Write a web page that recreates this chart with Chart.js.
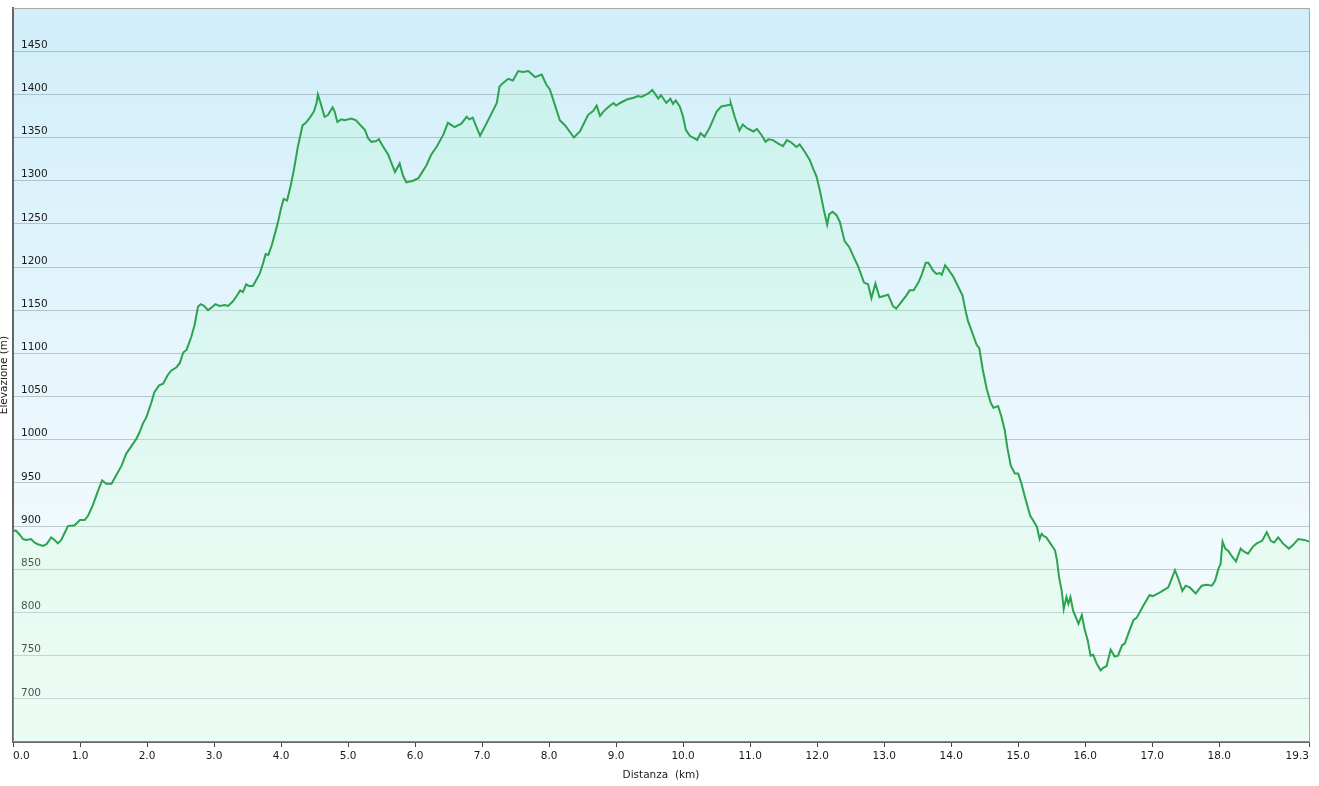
<!DOCTYPE html>
<html>
<head>
<meta charset="utf-8">
<title>Profilo altimetrico</title>
<script src="https://cdn.jsdelivr.net/npm/chart.js@4.4.1/dist/chart.umd.min.js"></script>
<style>
  html, body { margin: 0; padding: 0; background: #fff; }
  canvas { display: block; }
</style>
</head>
<body>
<canvas id="profile" width="1319" height="786"></canvas>
<script>
// distance along the track (km) and elevation (m)
const distanceKm = [
  0.00, 0.04, 0.10, 0.15, 0.20, 0.27, 0.32, 0.37, 0.45, 0.50, 0.57, 0.62, 0.67, 0.72, 0.77, 0.82, 0.92,
  1.00, 1.07, 1.12, 1.19, 1.27, 1.33, 1.39, 1.47, 1.54, 1.62, 1.69, 1.77, 1.84, 1.89, 1.94, 1.99,
  2.06, 2.11, 2.18, 2.24, 2.31, 2.36, 2.44, 2.49, 2.54, 2.59, 2.66, 2.71, 2.76, 2.80, 2.85, 2.91, 2.96,
  3.02, 3.08, 3.16, 3.21, 3.28, 3.36, 3.39, 3.43, 3.48, 3.52, 3.58, 3.63, 3.68, 3.73, 3.77, 3.81, 3.86, 3.91, 3.96,
  4.00, 4.04, 4.09, 4.14, 4.19, 4.25, 4.32, 4.37, 4.43, 4.49, 4.53, 4.55, 4.59, 4.65, 4.70, 4.77, 4.80, 4.84, 4.90, 4.95,
  5.05, 5.12, 5.20, 5.25, 5.30, 5.35, 5.42, 5.46, 5.52, 5.60, 5.65, 5.70, 5.77, 5.82, 5.87, 5.97,
  6.05, 6.17, 6.24, 6.32, 6.42, 6.49, 6.59, 6.69, 6.77, 6.81, 6.86, 6.97,
  7.07, 7.22, 7.26, 7.31, 7.39, 7.46, 7.54, 7.61, 7.69, 7.79, 7.89, 7.96,
  8.01, 8.09, 8.16, 8.24, 8.37, 8.46, 8.53, 8.58, 8.66, 8.71, 8.76, 8.81, 8.88, 8.96,
  9.00, 9.06, 9.16, 9.26, 9.33, 9.38, 9.48, 9.54, 9.63, 9.67, 9.75, 9.81, 9.85, 9.89, 9.95,
  10.00, 10.04, 10.10, 10.17, 10.21, 10.26, 10.32, 10.40, 10.50, 10.57, 10.70, 10.71, 10.77, 10.84, 10.89, 10.95,
  11.00, 11.05, 11.10, 11.17, 11.23, 11.27, 11.34, 11.42, 11.49, 11.55, 11.62, 11.69, 11.74, 11.82, 11.89, 11.94, 11.99,
  12.04, 12.10, 12.15, 12.18, 12.23, 12.29, 12.34, 12.41, 12.48, 12.55, 12.61, 12.70, 12.76, 12.81, 12.87, 12.93,
  13.06, 13.13, 13.18, 13.26, 13.33, 13.38, 13.44, 13.51, 13.56, 13.62, 13.66, 13.73, 13.78, 13.83, 13.86, 13.91, 13.96,
  14.03, 14.10, 14.17, 14.21, 14.25, 14.32, 14.38, 14.42, 14.47, 14.53, 14.59, 14.63, 14.70, 14.75, 14.80, 14.84, 14.89, 14.95,
  15.00, 15.05, 15.10, 15.18, 15.22, 15.28, 15.32, 15.35, 15.39, 15.42, 15.48, 15.55, 15.58, 15.61, 15.65, 15.68, 15.72,
  15.75, 15.78, 15.82, 15.90, 15.95, 15.99,
  16.04, 16.08, 16.12, 16.17, 16.23, 16.27, 16.32, 16.38, 16.44, 16.49, 16.55, 16.59, 16.67, 16.72, 16.77, 16.86, 16.96,
  17.01, 17.11, 17.24, 17.29, 17.34, 17.39, 17.45, 17.50, 17.56, 17.65, 17.74, 17.81, 17.89, 17.94, 17.99,
  18.02, 18.05, 18.09, 18.14, 18.18, 18.25, 18.32, 18.36, 18.43, 18.50, 18.56, 18.64, 18.71, 18.77, 18.82, 18.88, 18.95,
  19.04, 19.10, 19.18, 19.27, 19.34
];
const elevationM = [
  894, 895, 890, 885, 884, 885, 881, 879, 877, 879, 887, 884, 880, 884, 892, 900, 901,
  907, 907, 912, 924, 941, 953, 949, 949, 959, 970, 984, 993, 1001, 1009, 1019, 1026,
  1042, 1055, 1063, 1065, 1075, 1080, 1084, 1089, 1101, 1104, 1119, 1133, 1154, 1157, 1155, 1150, 1153,
  1157, 1155, 1156, 1155, 1160, 1169, 1173, 1171, 1180, 1178, 1178, 1185, 1192, 1204, 1215, 1214, 1225, 1239, 1254,
  1268, 1279, 1277, 1293, 1312, 1339, 1364, 1367, 1373, 1380, 1390, 1400, 1390, 1374, 1376, 1385, 1380, 1368, 1371, 1370,
  1372, 1370, 1363, 1359, 1349, 1345, 1346, 1348, 1340, 1330, 1320, 1310, 1320, 1306, 1298, 1300,
  1303, 1318, 1330, 1339, 1353, 1367, 1362, 1366, 1374, 1371, 1373, 1352,
  1367, 1390, 1409, 1413, 1418, 1416, 1427, 1426, 1427, 1420, 1423, 1411,
  1406, 1387, 1370, 1364, 1350, 1357, 1368, 1376, 1381, 1387, 1375, 1380, 1385, 1390,
  1387, 1390, 1394, 1396, 1398, 1397, 1401, 1405, 1395, 1399, 1390, 1395, 1389, 1393, 1386,
  1374, 1359, 1352, 1349, 1347, 1355, 1351, 1362, 1380, 1386, 1388, 1390, 1374, 1358, 1365, 1361,
  1359, 1357, 1360, 1353, 1345, 1348, 1347, 1343, 1340, 1347, 1344, 1339, 1342, 1333, 1324, 1314, 1305,
  1289, 1266, 1249, 1261, 1264, 1260, 1252, 1230, 1223, 1211, 1201, 1182, 1180, 1164, 1181, 1165,
  1168, 1155, 1152, 1160, 1167, 1173, 1173, 1182, 1191, 1205, 1205, 1196, 1192, 1193, 1191, 1202, 1197,
  1189, 1178, 1167, 1151, 1138, 1123, 1110, 1106, 1082, 1059, 1043, 1037, 1039, 1027, 1011, 990, 970, 961,
  961, 949, 934, 912, 907, 899, 885, 891, 888, 887, 880, 872, 860, 841, 825, 804, 818,
  810, 818, 802, 787, 797, 781,
  767, 750, 751, 741, 733, 736, 738, 757, 749, 750, 762, 764, 781, 791, 794, 807, 820,
  819, 823, 829, 839, 849, 839, 825, 831, 829, 822, 831, 832, 831, 837, 851,
  856, 882, 874, 871, 866, 859, 874, 871, 868, 876, 880, 883, 893, 883, 881, 887, 880,
  874, 878, 885, 884, 882
];

// axis ticks
const xTickValues = [0, 1, 2, 3, 4, 5, 6, 7, 8, 9, 10, 11, 12, 13, 14, 15, 16, 17, 18, 19.34];
const yLabelled = [700, 750, 800, 850, 900, 950, 1000, 1050, 1100, 1150, 1200, 1250, 1300, 1350, 1400, 1450];

const FONT = { family: "'DejaVu Sans', Verdana, sans-serif", size: 10.5 };

// sky-like backdrop inside the plot, white outside, thin frame on top/right
const backdrop = {
  id: "backdrop",
  beforeDraw(chart) {
    const { ctx, chartArea: a } = chart;
    ctx.save();
    ctx.fillStyle = "#fff";
    ctx.fillRect(0, 0, chart.width, chart.height);
    const g = ctx.createLinearGradient(0, a.top, 0, a.bottom);
    g.addColorStop(0, "#d1eefa");
    g.addColorStop(0.7, "#f0f9fd");
    g.addColorStop(1, "#f3fbfc");
    ctx.fillStyle = g;
    ctx.fillRect(a.left, a.top, a.right - a.left, a.bottom - a.top);
    ctx.restore();
  },
  afterDraw(chart) {
    const { ctx, chartArea: a } = chart;
    ctx.save();
    ctx.strokeStyle = "#a9a9a9";
    ctx.lineWidth = 1;
    ctx.beginPath();
    ctx.moveTo(a.left, a.top + 0.5);
    ctx.lineTo(a.right + 0.5, a.top + 0.5);
    ctx.lineTo(a.right + 0.5, a.bottom);
    ctx.stroke();
    ctx.restore();
  }
};

function areaFill(context) {
  const { chart } = context;
  const a = chart.chartArea;
  if (!a) return "rgba(190,245,214,0.3)";
  const g = chart.ctx.createLinearGradient(0, a.top, 0, a.bottom);
  g.addColorStop(0, "rgba(180,245,210,0.34)");
  g.addColorStop(1, "rgba(210,255,214,0.24)");
  return g;
}

const points = distanceKm.map((d, i) => ({ x: d, y: elevationM[i] }));

new Chart(document.getElementById("profile"), {
  type: "line",
  data: {
    datasets: [{
      data: points,
      borderColor: "#2ba34f",
      borderWidth: 2,
      pointRadius: 0,
      tension: 0,
      fill: "start",
      backgroundColor: areaFill
    }]
  },
  options: {
    responsive: false,
    animation: false,
    devicePixelRatio: 1,
    layout: { padding: { top: 8, right: 10, left: 0, bottom: 0 } },
    plugins: { legend: { display: false }, tooltip: { enabled: false } },
    scales: {
      x: {
        type: "linear",
        min: 0,
        max: 19.34,
        afterBuildTicks: (s) => { s.ticks = xTickValues.map((v) => ({ value: v })); },
        afterFit: (s) => { s.height = 44; s.paddingLeft = 0; s.paddingRight = 0; },
        grid: { drawOnChartArea: false, drawTicks: true, tickLength: 5, tickColor: "#444" },
        border: { display: true, color: "#666", width: 2 },
        ticks: {
          align: "inner",
          padding: 3,
          maxRotation: 0,
          autoSkip: false,
          color: "#1a1a1a",
          font: FONT,
          callback: (v) => Number(v).toFixed(1)
        },
        title: {
          display: true,
          text: "Distanza  (km)",
          color: "#1a1a1a",
          font: FONT,
          padding: { top: 4, bottom: 4.5 }
        }
      },
      y: {
        min: 650,
        max: 1500,
        afterBuildTicks: (s) => {
          s.ticks = [650].concat(yLabelled, [1500]).map((v) => ({ value: v }));
        },
        afterFit: (s) => { s.width = 13; s.paddingTop = 0; s.paddingBottom = 0; },
        grid: {
          color: (c) => (c.tick && (c.tick.value === 650 || c.tick.value === 1500)) ? "rgba(0,0,0,0)" : "rgba(120,140,150,0.45)",
          lineWidth: 1,
          drawTicks: false
        },
        border: { display: true, color: "#666", width: 2 },
        ticks: {
          mirror: true,
          padding: 8,
          labelOffset: -6,
          autoSkip: false,
          color: "#1a1a1a",
          font: FONT,
          callback: (v) => yLabelled.includes(v) ? String(v) : ""
        },
        title: {
          display: true,
          text: "Elevazione (m)",
          color: "#1a1a1a",
          font: FONT,
          padding: { top: -2, bottom: 0 }
        }
      }
    }
  },
  plugins: [backdrop]
});
</script>
</body>
</html>
